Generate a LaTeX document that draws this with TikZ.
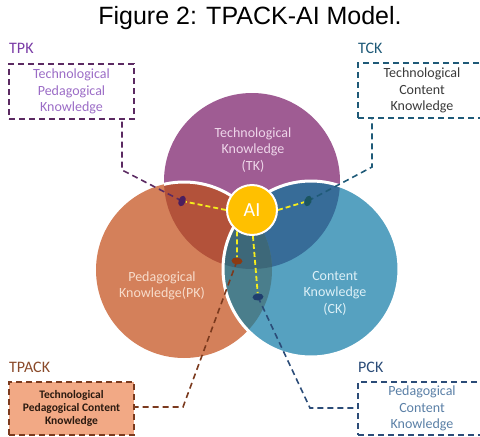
\documentclass[tikz,border=0pt]{standalone}
\usepackage{fontspec}
\setmainfont{Carlito}
\newfontfamily\headfont{Liberation Sans}
\usetikzlibrary{shapes.geometric}

\definecolor{tkfill}{HTML}{9F5C93}
\definecolor{pkfill}{HTML}{D4805A}
\definecolor{ckfill}{HTML}{56A1C0}
\definecolor{tpfill}{HTML}{B3523A}
\definecolor{tcfill}{HTML}{376C98}
\definecolor{pcfill}{HTML}{4A7E8C}
\definecolor{tpcfill}{HTML}{3D6879}
\definecolor{tklabel}{HTML}{EED6EA}
\definecolor{pklabel}{HTML}{F7DCCB}
\definecolor{cklabel}{HTML}{DDF0F7}
\definecolor{aifill}{HTML}{FFC000}
\definecolor{aidash}{HTML}{F4EC1C}
\definecolor{tpkdark}{HTML}{5B2A62}
\definecolor{tpklabel}{HTML}{7A3CA6}
\definecolor{tpktext}{HTML}{9B6CC6}
\definecolor{tpkpin}{HTML}{4B1E5E}
\definecolor{tckdark}{HTML}{1F5A78}
\definecolor{tcktext}{HTML}{3A3A3A}
\definecolor{tckpin}{HTML}{1B5560}
\definecolor{tpackdark}{HTML}{7B3A1E}
\definecolor{tpacklabel}{HTML}{8A4A2A}
\definecolor{tpackbg}{HTML}{F2A985}
\definecolor{tpacktext}{HTML}{2B1A10}
\definecolor{tpackpin}{HTML}{8C3A12}
\definecolor{pckdark}{HTML}{2B4C78}
\definecolor{pcktext}{HTML}{5A7FA6}
\definecolor{pckpin}{HTML}{1F3E6E}

\pgfdeclarelayer{back}
\pgfdeclarelayer{links}
\pgfsetlayers{back,links,main}

\tikzset{
  circlelabel/.style={
    align=center,
    font=\fontsize{14}{16.5}\selectfont,
    inner sep=0pt
  },
  cornerlabel/.style={
    anchor=west,
    font=\fontsize{16}{18}\selectfont,
    inner sep=0pt
  },
  dashbox/.style={
    dash pattern=on 6pt off 4pt,
    line width=1.6pt,
    minimum width=125pt,
    minimum height=55pt,
    align=center,
    inner sep=2pt,
    font=\fontsize{14}{16.5}\selectfont
  },
  leader/.style={
    dash pattern=on 6pt off 4pt,
    line width=1.6pt
  },
  ailine/.style={
    draw=aidash,
    dash pattern=on 5pt off 3pt,
    line width=1.8pt
  },
  tack/.style={
    ellipse,
    inner sep=0pt,
    minimum width=11pt,
    minimum height=7pt
  }
}

\begin{document}
\begin{tikzpicture}[x=1pt,y=-1pt]
\useasboundingbox (0,0) rectangle (480,437);
\node[font=\headfont\fontsize{25}{30}\selectfont] (title) at (250,18) {Figure 2: TPACK-AI Model.};

\coordinate (tk) at (252,181);
\coordinate (pk) at (184,270);
\coordinate (ck) at (311,269);

\begin{pgfonlayer}{back}
\fill[tkfill] (tk) circle (88);
\fill[pkfill] (pk) circle (88);
\begin{scope}
  \clip (tk) circle (88);
  \fill[tpfill] (pk) circle (88);
  \draw[white, line width=3pt] (pk) circle (88);
\end{scope}
\fill[ckfill] (ck) circle (88);
\begin{scope}
  \clip (tk) circle (88);
  \fill[tcfill] (ck) circle (88);
\end{scope}
\begin{scope}
  \clip (pk) circle (88);
  \fill[pcfill] (ck) circle (88);
  \clip (tk) circle (88);
  \fill[tpcfill] (ck) circle (88);
\end{scope}
\draw[white, line width=3pt] (ck) circle (88);
\end{pgfonlayer}

\node[circlelabel, text=tklabel] (tktext) at (253,150) {Technological\\Knowledge\\(TK)};
\node[circlelabel, text=pklabel] (pktext) at (162,286) {Pedagogical\\Knowledge(PK)};
\node[circlelabel, text=cklabel] (cktext) at (335,293) {Content\\Knowledge\\(CK)};

\node[cornerlabel, text=tpklabel] (tpk) at (9,48) {TPK};
\node[cornerlabel, text=tckdark] (tck) at (358,48) {TCK};
\node[cornerlabel, text=tpacklabel] (tpack) at (9,367) {TPACK};
\node[cornerlabel, text=pckdark] (pck) at (358,367) {PCK};

\node[dashbox, draw=tpkdark, text=tpktext] (tpkbox) at (71.5,91.5) {Technological\\Pedagogical\\Knowledge};
\node[dashbox, draw=tckdark, text=tcktext, minimum width=128pt] (tckbox) at (422,90.5) {Technological\\Content\\Knowledge};
\node[dashbox, draw=tpackdark, fill=tpackbg, text=tpacktext, minimum height=53pt,
      font=\bfseries\fontsize{11.5}{13}\selectfont] (tpackbox) at (71.5,408.5) {Technological\\Pedagogical Content\\Knowledge};
\node[dashbox, draw=pckdark, text=pcktext, minimum width=128pt, minimum height=53pt] (pckbox) at (422,408.5) {Pedagogical\\Content\\Knowledge};

\node[circle, fill=aifill, draw=white, line width=2pt, minimum size=50pt, inner sep=0pt,
      text=white, font=\fontsize{20}{22}\selectfont] (ai) at (252,210) {AI};

\node[tack, fill=tpkpin, rotate=70] (pinTPK) at (182,201) {};
\node[tack, fill=tckpin, rotate=70] (pinTCK) at (308,201) {};
\node[tack, fill=tpackpin, rotate=-5] (pinTPACK) at (237,261) {};
\node[tack, fill=pckpin, rotate=5] (pinPCK) at (258,297) {};

\coordinate (tpkbend) at (122,170);
\coordinate (tckbend) at (372,167);
\coordinate (tpackbend) at (183,407);
\coordinate (pckbend) at (310,408);

\begin{pgfonlayer}{links}
\draw[leader, draw=tpkdark] (pinTPK.center) -- (tpkbend) -- (tpkbend |- tpkbox.south);
\draw[leader, draw=tckdark] (pinTCK.center) -- (tckbend) -- (tckbend |- tckbox.south);
\draw[leader, draw=tpackdark] (pinTPACK.center) -- (tpackbend) -- (tpackbend -| tpackbox.east);
\draw[leader, draw=pckdark] (pinPCK.center) -- (pckbend) -- (pckbend -| pckbox.west);

\draw[ailine] (ai.west) -- (pinTPK);
\draw[ailine] (ai.east) -- (pinTCK);
\draw[ailine] (ai.235) -- (pinTPACK);
\draw[ailine] (ai.272) -- (pinPCK);
\end{pgfonlayer}
\end{tikzpicture}
\end{document}
